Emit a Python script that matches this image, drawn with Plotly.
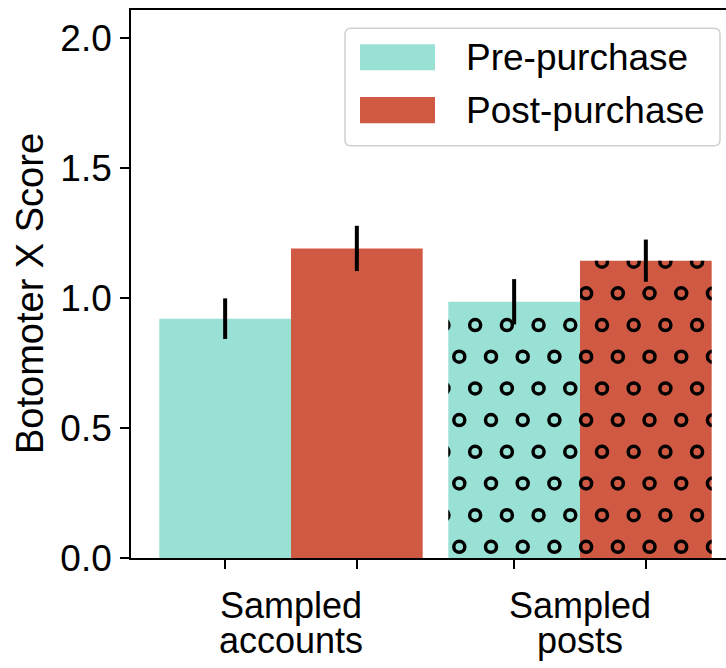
import math
import plotly.graph_objects as go

# ---------------- data ----------------
categories = ["Sampled\naccounts", "Sampled\nposts"]
series_names = ["Pre-purchase", "Post-purchase"]
pre_values = [0.92, 0.985]
pre_errors = [0.078, 0.087]
post_values = [1.19, 1.143]
post_errors = [0.087, 0.081]
hatched_categories = [False, True]
y_ticks = [0.0, 0.5, 1.0, 1.5, 2.0]
y_label = "Botomoter X Score"

# ---------------- style ----------------
COLORS = ["#9AE1D5", "#D05943"]
FONT = "Liberation Sans, Arial, sans-serif"
FIG_W, FIG_H = 726, 668
L, T, PW, PH = 131, 10, 595, 548
BAR_W = 0.4557
X_RANGE = [-0.5536, -0.5536 + PW / 289.0]
Y_RANGE = [0, 2.1065]
LINE_W = 1.7

# hatch ("o") lattice in data units
H_DX, H_DY = 0.1097, 0.1218
H_X0, H_Y0 = 0.5824, 0.043
H_RX, H_RY = 9 / 289.0, 9 / 260.0


def px_x(p):
    return (p - L) / PW


def px_y(p):
    return (T + PH - p) / PH


def xfrac(v):
    return (v - X_RANGE[0]) / (X_RANGE[1] - X_RANGE[0])


groups = list(range(len(categories)))
series = [(pre_values, pre_errors), (post_values, post_errors)]
offsets = [-BAR_W, 0.0]

fig = go.Figure()

# bars
for s, (vals, errs) in enumerate(series):
    fig.add_trace(go.Bar(
        x=groups, y=vals, offset=offsets[s], width=BAR_W,
        marker=dict(color=COLORS[s], line=dict(width=0)),
        name=series_names[s], showlegend=False, hoverinfo="skip",
        xaxis="x", yaxis="y",
    ))

layout_axes = {}
ax = 2
# hatch circles, clipped to each hatched bar via its own hidden subplot
for g in groups:
    if not hatched_categories[g]:
        continue
    for s, (vals, errs) in enumerate(series):
        left = g + offsets[s]
        right = left + BAR_W
        top = vals[g]
        xs, ys = [], []
        j0 = math.ceil((0 - H_RY - H_Y0) / H_DY)
        j1 = math.floor((top + H_RY - H_Y0) / H_DY)
        for j in range(j0, j1 + 1):
            yy = H_Y0 + j * H_DY
            xoff = H_X0 + (H_DX / 2 if j % 2 else 0.0)
            k0 = math.ceil((left - H_RX - xoff) / H_DX)
            k1 = math.floor((right + H_RX - xoff) / H_DX)
            for k in range(k0, k1 + 1):
                xs.append(xoff + k * H_DX)
                ys.append(yy)
        fig.add_trace(go.Scatter(
            x=xs, y=ys, mode="markers", cliponaxis=True,
            marker=dict(symbol="circle-open", size=11, color="black",
                        line=dict(width=3.5, color="black")),
            showlegend=False, hoverinfo="skip",
            xaxis=f"x{ax}", yaxis=f"y{ax}",
        ))
        layout_axes[f"xaxis{ax}"] = dict(domain=[xfrac(left), xfrac(right)], range=[left, right],
                                         visible=False, anchor=f"y{ax}", fixedrange=True)
        layout_axes[f"yaxis{ax}"] = dict(domain=[0, top / Y_RANGE[1]], range=[0, top],
                                         visible=False, anchor=f"x{ax}", fixedrange=True)
        ax += 1

# error bars on top
ex, ey, ee = [], [], []
for s, (vals, errs) in enumerate(series):
    for g in groups:
        ex.append(g + offsets[s] + BAR_W / 2)
        ey.append(vals[g])
        ee.append(errs[g])
fig.add_trace(go.Scatter(
    x=ex, y=ey, mode="markers",
    marker=dict(size=1, color="rgba(0,0,0,0)"),
    error_y=dict(type="data", array=ee, visible=True, thickness=4, width=0, color="black"),
    showlegend=False, hoverinfo="skip",
    xaxis=f"x{ax}", yaxis=f"y{ax}",
))
layout_axes[f"xaxis{ax}"] = dict(domain=[0, 1], range=X_RANGE, visible=False, anchor=f"y{ax}")
layout_axes[f"yaxis{ax}"] = dict(domain=[0, 1], range=Y_RANGE, visible=False, anchor=f"x{ax}")

bar_centers = sorted(g + o + BAR_W / 2 for g in groups for o in offsets)

fig.update_layout(
    width=FIG_W, height=FIG_H,
    margin=dict(l=L, r=FIG_W - L - PW, t=T, b=FIG_H - T - PH, pad=0),
    paper_bgcolor="white", plot_bgcolor="rgba(0,0,0,0)",
    barmode="overlay", showlegend=False,
    font=dict(family=FONT, color="black", size=37),
    xaxis=dict(domain=[0, 1], range=X_RANGE, showgrid=False, zeroline=False,
               showline=True, linecolor="black", linewidth=LINE_W, mirror=True,
               tickmode="array", tickvals=bar_centers, ticktext=[""] * len(bar_centers),
               ticks="outside", ticklen=9, tickwidth=LINE_W, tickcolor="black",
               showticklabels=False, fixedrange=True),
    yaxis=dict(domain=[0, 1], range=Y_RANGE, showgrid=False, zeroline=False,
               showline=True, linecolor="black", linewidth=LINE_W, mirror=False,
               tickmode="array", tickvals=y_ticks, ticktext=[f"{v:.1f}" for v in y_ticks],
               ticks="outside", ticklen=9, tickwidth=LINE_W, tickcolor="black",
               tickfont=dict(size=37), ticklabelstandoff=1, fixedrange=True),
    **layout_axes,
)

# category labels (two lines each)
LINE_Y = [605, 640]
for g, cat in zip(groups, categories):
    for li, line in enumerate(cat.split("\n")):
        fig.add_annotation(x=g, xref="x", y=px_y(LINE_Y[li]), yref="paper",
                           text=line, showarrow=False, xanchor="center", yanchor="middle",
                           font=dict(size=36, family=FONT, color="black"))

# y-axis label
fig.add_annotation(x=px_x(30), y=px_y(294), xref="paper", yref="paper", text=y_label,
                   textangle=-90, showarrow=False, xanchor="center", yanchor="middle",
                   font=dict(size=38, family=FONT, color="black"))

# legend frame (rounded)
bx0, bx1, by0, by1, rr = 345, 720, 28.3, 145.7, 6
rx, ry = rr / PW, rr / PH
X0, X1, Y0, Y1 = px_x(bx0), px_x(bx1), px_y(by1), px_y(by0)
path = (f"M {X0+rx},{Y0} L {X1-rx},{Y0} Q {X1},{Y0} {X1},{Y0+ry} "
        f"L {X1},{Y1-ry} Q {X1},{Y1} {X1-rx},{Y1} L {X0+rx},{Y1} "
        f"Q {X0},{Y1} {X0},{Y1-ry} L {X0},{Y0+ry} Q {X0},{Y0} {X0+rx},{Y0} Z")
fig.add_shape(type="path", path=path, xref="paper", yref="paper",
              line=dict(color="#D0D0D0", width=1.5), fillcolor="white", layer="above")
sw_rows = [(44.3, 70.3), (97.0, 123.3)]
for s, (ya, yb) in enumerate(sw_rows):
    fig.add_shape(type="rect", xref="paper", yref="paper",
                  x0=px_x(360), x1=px_x(435), y0=px_y(yb), y1=px_y(ya),
                  line=dict(width=0), fillcolor=COLORS[s], layer="above")
    fig.add_annotation(x=px_x(464), y=px_y((ya + yb) / 2), xref="paper", yref="paper",
                       text=series_names[s], showarrow=False, xanchor="left", yanchor="middle",
                       font=dict(size=37, family=FONT, color="black"))

fig.write_html("out.html")
